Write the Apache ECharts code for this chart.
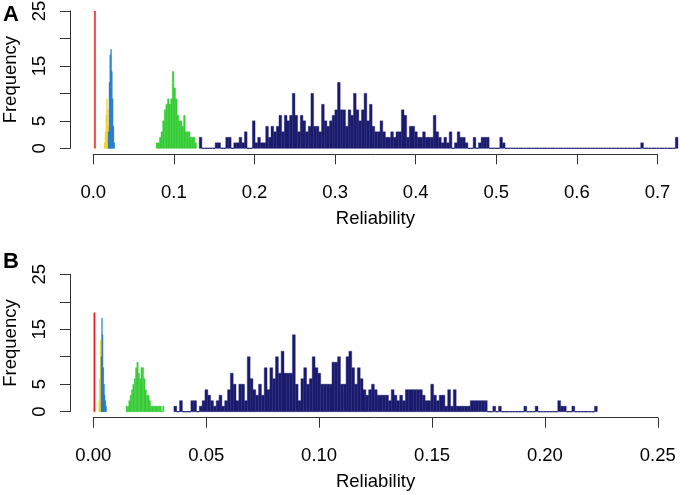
<!DOCTYPE html>
<html>
<head>
<meta charset="utf-8">
<script src="https://cdn.jsdelivr.net/npm/echarts@6/dist/echarts.min.js"></script>
<style>
html,body{margin:0;padding:0;background:#fff;}
#chart{width:680px;height:495px;}
</style>
</head>
<body>
<div id="chart"></div>
<script>
// ---------------- DATA ----------------
// Panel A histograms: bin start, bin width, counts per bin
const aRedStart = 0.0012, aRedWidth = 0.0016;
const aRed = [25];
const aYellowStart = 0.0135, aYellowWidth = 0.001;
const aYellow = [1, 3, 6, 9, 7, 4, 2];
const aBlueStart = 0.0185, aBlueWidth = 0.001;
const aBlue = [3, 12, 17, 18, 14, 9, 4, 1];
const aGreenStart = 0.078, aGreenWidth = 0.002;
const aGreen = [1, 1, 2, 3, 5, 7, 8, 9, 8, 9, 14, 11, 9, 6, 5, 5, 4, 6, 3, 3, 3, 2, 2, 2, 1];
const aNavyStart = 0.1314, aNavyWidth = 0.0033;
const aNavy = [
  2, 0, 0, 0, 0, 0, 1, 1, 0, 0, 2, 2, 0, 1, 1, 2, 1, 3, 0, 0,
  5, 1, 2, 1, 1, 4, 2, 4, 3, 4, 6, 3, 6, 5, 6, 10, 6, 3, 6, 5,
  3, 4, 10, 4, 4, 3, 8, 5, 4, 5, 6, 7, 12, 7, 7, 4, 7, 6, 10, 7,
  5, 7, 10, 5, 8, 4, 3, 3, 5, 3, 2, 2, 3, 2, 3, 3, 7, 6, 2, 4,
  4, 3, 2, 2, 3, 2, 2, 2, 6, 3, 2, 1, 2, 1, 3, 0, 1, 3, 2, 2,
  1, 0, 0, 2, 0, 1, 2, 2, 2, 0, 0, 0, 0, 2, 1, 0, 0, 0, 0, 0,
  0, 0, 0, 0, 0, 0, 0, 0, 0, 0, 0, 0, 0, 0, 0, 0, 0, 0, 0, 0,
  0, 0, 0, 0, 0, 0, 0, 0, 0, 0, 0, 0, 0, 0, 0, 0, 0, 0, 0, 0,
  0, 0, 0, 0, 0, 0, 1, 0, 0, 0, 0, 0, 0, 0, 0, 0, 0, 0, 0, 2
];
const aTicks = [0, 0.1, 0.2, 0.3, 0.4, 0.5, 0.6, 0.7];

// Panel B histograms
const bRedStart = 0.0002, bRedWidth = 0.0006;
const bRed = [18];
const bYellowStart = 0.0024, bYellowWidth = 0.0003;
const bYellow = [2, 6, 13, 10, 6, 3, 2];
const bBlueStart = 0.0034, bBlueWidth = 0.0003;
const bBlue = [10, 17, 14, 8, 5, 3, 2, 1];
const bGreenStart = 0.0145, bGreenWidth = 0.0006;
const bGreen = [1, 1, 2, 3, 4, 5, 6, 8, 9, 7, 6, 8, 8, 6, 4, 3, 3, 2, 1, 1, 1, 1, 1, 1, 1, 1, 0, 1];
const bNavyStart = 0.0357, bNavyWidth = 0.00125;
const bNavy = [
  1, 0, 2, 0, 0, 0, 2, 2, 0, 1, 2, 4, 3, 2, 1, 2, 3, 1, 2, 4,
  7, 5, 2, 5, 5, 2, 10, 6, 4, 3, 5, 3, 8, 4, 8, 6, 10, 7, 11, 7,
  7, 7, 14, 5, 2, 6, 8, 5, 6, 10, 8, 7, 5, 5, 5, 5, 9, 9, 10, 5,
  5, 10, 11, 8, 5, 8, 6, 4, 3, 4, 5, 4, 3, 3, 3, 3, 2, 4, 3, 2,
  3, 2, 4, 4, 4, 4, 4, 4, 3, 2, 2, 5, 3, 2, 3, 3, 1, 4, 1, 4,
  1, 1, 1, 1, 1, 2, 2, 2, 2, 2, 2, 0, 0, 1, 0, 1, 0, 0, 0, 0,
  0, 0, 0, 0, 1, 0, 0, 0, 1, 0, 0, 0, 0, 0, 0, 0, 2, 1, 1, 0,
  0, 1, 0, 0, 0, 0, 0, 0, 0, 1
];
const bTicks = [0, 0.05, 0.10, 0.15, 0.20, 0.25];

const yTicks = [0, 5, 10, 15, 20, 25];
const yShownLabels = [0, 5, 15, 25];

// ---------------- STYLE / LAYOUT ----------------
const COLORS = { red: '#ea2020', yellow: '#f7d21a', blue: '#1f77c9', green: '#35cc35', navy: '#1b1b6e' };
const FONT = 'Liberation Sans, Arial, Helvetica, sans-serif';
const FS = 18.5;
const AXIS_COLOR = '#333';
const LEFT = 93.3;
const Y_AXIS_X = 70;
const A_SCALE = 806, B_SCALE = 2258;
const A_TOP = 11, A_H = 137.3, A_AXIS_Y = 154.3;
const B_TOP = 274.3, B_H = 137.4, B_AXIS_Y = 417.7;
const A_DATA_MAX = 0.727, B_DATA_MAX = 0.225;

function bins(start, width, counts) {
  return counts.map((c, i) => [start + i * width, start + (i + 1) * width, c]);
}

function renderBins(color) {
  return function (params, api) {
    const x0 = api.value(0), x1 = api.value(1), c = api.value(2);
    const pTop = api.coord([x0, c]);
    const pBot = api.coord([x1, 0]);
    if (c === 0) {
      return { type: 'line', shape: { x1: pTop[0], y1: pBot[1], x2: pBot[0], y2: pBot[1] },
               style: { stroke: color, lineWidth: 1.2 } };
    }
    return { type: 'rect',
             shape: { x: pTop[0], y: pTop[1], width: pBot[0] - pTop[0], height: pBot[1] - pTop[1] },
             style: { fill: color, stroke: color, lineWidth: 0.4 } };
  };
}

function histSeries(ai, data, color) {
  return { type: 'custom', xAxisIndex: ai, yAxisIndex: ai, renderItem: renderBins(color),
           data: data, encode: { x: [0, 1], y: 2 }, silent: true, clip: false };
}

const textStyle = { fontFamily: FONT, fontSize: FS, color: '#000' };
const lineSt = { color: AXIS_COLOR, width: 1 };

function gridBox(left, top, width, height) {
  return { left: left, top: top, width: width, height: height, containLabel: false, outerBoundsMode: 'none' };
}
function hiddenX(gi, max) { return { gridIndex: gi, type: 'value', min: 0, max: max, show: false }; }
function hiddenY(gi) { return { gridIndex: gi, type: 'value', min: 0, max: yTicks[yTicks.length - 1], show: false }; }

function tickXAxis(gi, ticks, digits) {
  return {
    gridIndex: gi, type: 'value', min: ticks[0], max: ticks[ticks.length - 1], interval: ticks[1] - ticks[0],
    position: 'bottom',
    axisLine: { show: true, lineStyle: lineSt },
    axisTick: { show: true, length: 10, lineStyle: lineSt },
    axisLabel: Object.assign({ margin: 29, formatter: v => v.toFixed(digits) }, textStyle),
    splitLine: { show: false },
    name: 'Reliability', nameLocation: 'middle', nameGap: 55,
    nameTextStyle: Object.assign({}, textStyle)
  };
}
function tickYAxis(gi) {
  return {
    gridIndex: gi, type: 'value', min: yTicks[0], max: yTicks[yTicks.length - 1],
    interval: yTicks[1] - yTicks[0], position: 'left',
    axisLine: { show: true, lineStyle: lineSt },
    axisTick: { show: true, length: 10, lineStyle: lineSt },
    axisLabel: Object.assign({ rotate: 90, margin: 30, align: 'center', verticalAlign: 'middle',
      formatter: v => yShownLabels.indexOf(v) >= 0 ? String(v) : '' }, textStyle),
    splitLine: { show: false },
    name: 'Frequency', nameLocation: 'middle', nameGap: 50, nameRotate: 90,
    nameTextStyle: Object.assign({}, textStyle)
  };
}

const chart = echarts.init(document.getElementById('chart'), null, { renderer: 'canvas' });
chart.setOption({
  animation: false,
  backgroundColor: '#fff',
  textStyle: { fontFamily: FONT },
  grid: [
    gridBox(LEFT, A_TOP, A_DATA_MAX * A_SCALE, A_H),                               // 0 A data
    gridBox(LEFT, A_TOP, aTicks[aTicks.length - 1] * A_SCALE, A_AXIS_Y - A_TOP),   // 1 A x axis
    gridBox(Y_AXIS_X, A_TOP, 10, A_H),                                              // 2 A y axis
    gridBox(LEFT, B_TOP, B_DATA_MAX * B_SCALE, B_H),                               // 3 B data
    gridBox(LEFT, B_TOP, bTicks[bTicks.length - 1] * B_SCALE, B_AXIS_Y - B_TOP),   // 4 B x axis
    gridBox(Y_AXIS_X, B_TOP, 10, B_H)                                               // 5 B y axis
  ],
  xAxis: [
    hiddenX(0, A_DATA_MAX),
    tickXAxis(1, aTicks, 1),
    hiddenX(2, 1),
    hiddenX(3, B_DATA_MAX),
    tickXAxis(4, bTicks, 2),
    hiddenX(5, 1)
  ],
  yAxis: [
    hiddenY(0),
    hiddenY(1),
    tickYAxis(2),
    hiddenY(3),
    hiddenY(4),
    tickYAxis(5)
  ],
  graphic: [
    { type: 'text', left: 3, top: 4, style: { text: 'A', font: 'bold 22px ' + FONT, fill: '#000' } },
    { type: 'text', left: 3, top: 251, style: { text: 'B', font: 'bold 22px ' + FONT, fill: '#000' } }
  ],
  series: [
    histSeries(0, bins(aNavyStart, aNavyWidth, aNavy), COLORS.navy),
    histSeries(0, bins(aGreenStart, aGreenWidth, aGreen), COLORS.green),
    histSeries(0, bins(aYellowStart, aYellowWidth, aYellow), COLORS.yellow),
    histSeries(0, bins(aBlueStart, aBlueWidth, aBlue), COLORS.blue),
    histSeries(0, bins(aRedStart, aRedWidth, aRed), COLORS.red),
    histSeries(3, bins(bNavyStart, bNavyWidth, bNavy), COLORS.navy),
    histSeries(3, bins(bGreenStart, bGreenWidth, bGreen), COLORS.green),
    histSeries(3, bins(bYellowStart, bYellowWidth, bYellow), COLORS.yellow),
    histSeries(3, bins(bBlueStart, bBlueWidth, bBlue), COLORS.blue),
    histSeries(3, bins(bRedStart, bRedWidth, bRed), COLORS.red)
  ]
});
</script>
</body>
</html>
